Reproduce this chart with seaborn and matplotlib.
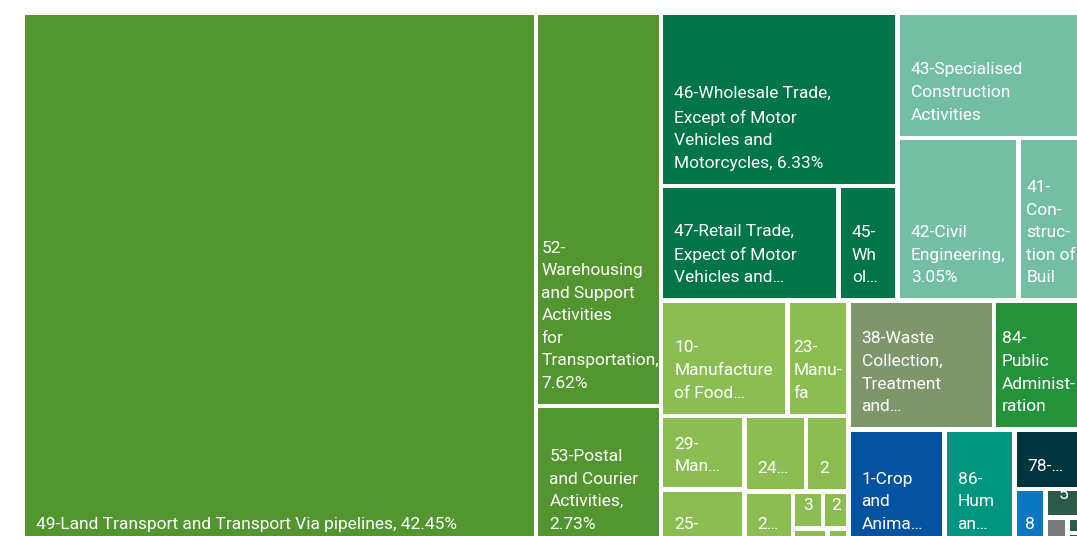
import matplotlib
matplotlib.use("Agg")
import matplotlib.pyplot as plt
import seaborn as sns
from matplotlib.patches import Rectangle

# -----------------------------------
# Data (share of total, %)
# -----------------------------------
group_names = [
    "H-Transportation", "G-Trade", "F-Construction", "C-Manufacturing",
    "E-Waste", "O-Public Administration", "A-Agriculture", "Q-Health",
    "N-Administrative Services", "8", "5", "Other", "Other 2", "Other 3",
]

group_colors = [
    "#53952f", "#00754a", "#74bfa3", "#8bbd53",
    "#7f966b", "#25933a", "#0452a0", "#00957e",
    "#00343f", "#0a78c0", "#2c5a49", "#7a7a7a", "#2c5a49", "#2c5a49",
]

leaf_group = [
    0, 0, 0,
    1, 1, 1,
    2, 2, 2,
    3, 3, 3, 3, 3, 3, 3, 3, 3, 3, 3,
    4, 5, 6, 7, 8, 9, 10, 11, 12, 13,
]

leaf_values = [
    42.45, 7.62, 2.73,
    6.33, 3.15, 1.05,
    3.6, 3.05, 1.65,
    2.25, 1.09, 0.95, 0.74, 0.72, 0.50, 0.42, 0.17, 0.146, 0.10, 0.06,
    2.9, 1.8, 1.75, 1.28, 0.64, 0.28, 0.17, 0.10, 0.04, 0.035,
]

leaf_labels = [
    "49-Land Transport and Transport Via pipelines, 42.45%",
    "52-\nWarehousing\nand Support\nActivities\nfor\nTransportation,\n7.62%",
    "53-Postal\nand Courier\nActivities,\n2.73%",
    "46-Wholesale Trade,\nExcept of Motor\nVehicles and\nMotorcycles, 6.33%",
    "47-Retail Trade,\nExpect of Motor\nVehicles and…",
    "45-\nWh\nol…",
    "43-Specialised\nConstruction\nActivities",
    "42-Civil\nEngineering,\n3.05%",
    "41-\nCon-\nstruc-\ntion of\nBuil",
    "10-\nManufacture\nof Food…",
    "23-\nManu-\nfa",
    "29-\nMan…",
    "25-",
    "24…",
    "2",
    "2…",
    "3",
    "2",
    "",
    "",
    "38-Waste\nCollection,\nTreatment\nand…",
    "84-\nPublic\nAdminist-\nration",
    "1-Crop\nand\nAnima…",
    "86-\nHum\nan…",
    "78-…",
    "8",
    "5",
    "",
    "",
    "",
]

# -----------------------------------
# Squarified treemap layout
# -----------------------------------
def worst(row, length):
    s = sum(row)
    return max(max(length ** 2 * r / s ** 2, s ** 2 / (length ** 2 * r)) for r in row)


def squarify(areas, x, y, w, h):
    rects = []
    rest = list(areas)
    while rest:
        length = min(w, h)
        row = [rest[0]]
        i = 1
        while i < len(rest) and worst(row + [rest[i]], length) <= worst(row, length):
            row.append(rest[i])
            i += 1
        rest = rest[i:]
        s = sum(row)
        if w >= h:
            cw = s / h if rest else w
            yy = y
            for r in row:
                rh = r / cw
                rects.append((x, yy, cw, rh))
                yy += rh
            x += cw
            w -= cw
        else:
            rh = s / w if rest else h
            xx = x
            for r in row:
                rw = r / rh
                rects.append((xx, y, rw, rh))
                xx += rw
            y += rh
            h -= rh
    return rects


# frame of the whole treemap (pixel units, partly outside the picture)
X0, Y0, W, H = 23, 13, 1061, 534
GAP = 4.4

total = sum(leaf_values)
scale = W * H / total

group_totals = [sum(v for g, v in zip(leaf_group, leaf_values) if g == k)
                for k in range(len(group_names))]
group_order = sorted(range(len(group_names)), key=lambda k: -group_totals[k])
group_rects = squarify([group_totals[k] * scale for k in group_order], X0, Y0, W, H)

# -----------------------------------
# Plot
# -----------------------------------
sns.set_theme(style="white")
plt.rcParams["font.family"] = ["Roboto", "DejaVu Sans"]

fig = plt.figure(figsize=(10.77, 5.36), dpi=100)
ax = fig.add_axes([0, 0, 1, 1])
ax.set_xlim(0, 1077)
ax.set_ylim(536, 0)
ax.axis("off")

renderer = fig.canvas.get_renderer()

for k, (gx, gy, gw, gh) in zip(group_order, group_rects):
    leaves = [i for i, g in enumerate(leaf_group) if g == k]
    leaves.sort(key=lambda i: -leaf_values[i])
    rects = squarify([leaf_values[i] * scale for i in leaves], gx, gy, gw, gh)
    for i, (x, y, w, h) in zip(leaves, rects):
        ax.add_patch(Rectangle(
            (x + GAP / 2, y + GAP / 2), w - GAP, h - GAP,
            facecolor=group_colors[k], edgecolor="none"
        ))
        if leaf_labels[i]:
            t = ax.text(
                x + GAP / 2 + 11, y + h - GAP / 2 - 13, leaf_labels[i],
                color="white", fontsize=12.5, ha="left", va="bottom",
                linespacing=1.63
            )
            # narrow cells: keep the text block inside the cell
            tw = t.get_window_extent(renderer).width
            pad = max(3, min(11, (w - GAP - tw) / 2))
            t.set_x(x + GAP / 2 + pad)

fig.savefig("out.png", dpi=100, facecolor="white")
